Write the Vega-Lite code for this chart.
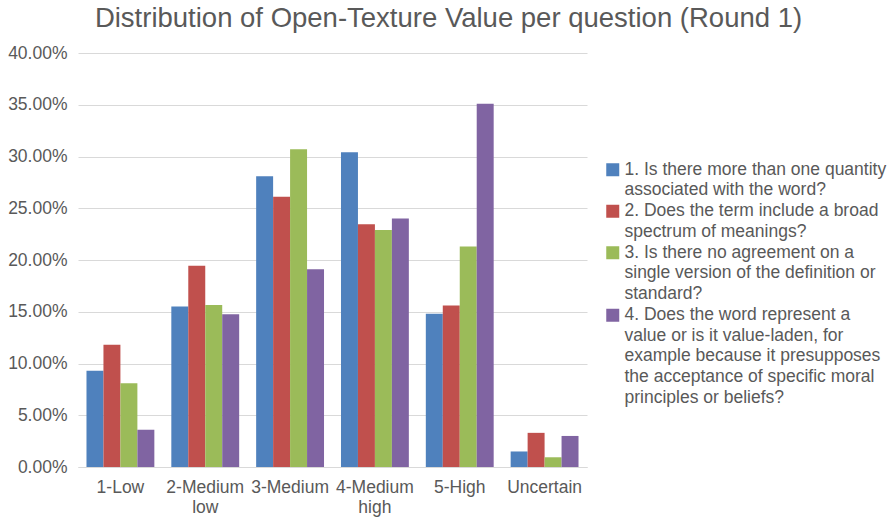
{
  "$schema": "https://vega.github.io/schema/vega-lite/v6.json",
  "width": 509,
  "height": 414,
  "autosize": {"type": "none"},
  "padding": {"left": 78, "top": 53, "right": 309, "bottom": 54},
  "background": "white",
  "title": {
    "text": "Distribution of Open-Texture Value per question (Round 1)",
    "anchor": "middle",
    "frame": "group",
    "dx": 116,
    "fontSize": 27.5,
    "font": "Liberation Sans",
    "fontWeight": "normal",
    "color": "#595959",
    "offset": 12
  },
  "data": {
    "values": [
      {"category": "1-Low", "question": "1. Is there more than one quantity\nassociated with the word?", "share": 0.093},
      {"category": "1-Low", "question": "2. Does the term include a broad\nspectrum of meanings?", "share": 0.118},
      {"category": "1-Low", "question": "3. Is there no agreement on a\nsingle version of the definition or\nstandard?", "share": 0.081},
      {"category": "1-Low", "question": "4. Does the word represent a\nvalue or is it value-laden, for\nexample because it presupposes\nthe acceptance of specific moral\nprinciples or beliefs?", "share": 0.036},
      {"category": "2-Medium low", "question": "1. Is there more than one quantity\nassociated with the word?", "share": 0.155},
      {"category": "2-Medium low", "question": "2. Does the term include a broad\nspectrum of meanings?", "share": 0.1945},
      {"category": "2-Medium low", "question": "3. Is there no agreement on a\nsingle version of the definition or\nstandard?", "share": 0.1565},
      {"category": "2-Medium low", "question": "4. Does the word represent a\nvalue or is it value-laden, for\nexample because it presupposes\nthe acceptance of specific moral\nprinciples or beliefs?", "share": 0.1475},
      {"category": "3-Medium", "question": "1. Is there more than one quantity\nassociated with the word?", "share": 0.281},
      {"category": "3-Medium", "question": "2. Does the term include a broad\nspectrum of meanings?", "share": 0.261},
      {"category": "3-Medium", "question": "3. Is there no agreement on a\nsingle version of the definition or\nstandard?", "share": 0.307},
      {"category": "3-Medium", "question": "4. Does the word represent a\nvalue or is it value-laden, for\nexample because it presupposes\nthe acceptance of specific moral\nprinciples or beliefs?", "share": 0.191},
      {"category": "4-Medium high", "question": "1. Is there more than one quantity\nassociated with the word?", "share": 0.304},
      {"category": "4-Medium high", "question": "2. Does the term include a broad\nspectrum of meanings?", "share": 0.2345},
      {"category": "4-Medium high", "question": "3. Is there no agreement on a\nsingle version of the definition or\nstandard?", "share": 0.229},
      {"category": "4-Medium high", "question": "4. Does the word represent a\nvalue or is it value-laden, for\nexample because it presupposes\nthe acceptance of specific moral\nprinciples or beliefs?", "share": 0.240},
      {"category": "5-High", "question": "1. Is there more than one quantity\nassociated with the word?", "share": 0.148},
      {"category": "5-High", "question": "2. Does the term include a broad\nspectrum of meanings?", "share": 0.156},
      {"category": "5-High", "question": "3. Is there no agreement on a\nsingle version of the definition or\nstandard?", "share": 0.213},
      {"category": "5-High", "question": "4. Does the word represent a\nvalue or is it value-laden, for\nexample because it presupposes\nthe acceptance of specific moral\nprinciples or beliefs?", "share": 0.351},
      {"category": "Uncertain", "question": "1. Is there more than one quantity\nassociated with the word?", "share": 0.015},
      {"category": "Uncertain", "question": "2. Does the term include a broad\nspectrum of meanings?", "share": 0.033},
      {"category": "Uncertain", "question": "3. Is there no agreement on a\nsingle version of the definition or\nstandard?", "share": 0.0094},
      {"category": "Uncertain", "question": "4. Does the word represent a\nvalue or is it value-laden, for\nexample because it presupposes\nthe acceptance of specific moral\nprinciples or beliefs?", "share": 0.030}
    ]
  },
  "mark": {"type": "bar"},
  "encoding": {
    "x": {
      "field": "category",
      "type": "nominal",
      "sort": null,
      "title": null,
      "scale": {"paddingInner": 0.2, "paddingOuter": 0.1},
      "axis": {
        "labelAngle": 0,
        "labelExpr": "split(datum.label, ' ')",
        "labelFont": "Liberation Sans",
        "labelFontSize": 17.5,
        "labelColor": "#595959",
        "labelLineHeight": 20,
        "labelPadding": 11,
        "labelBaseline": "top",
        "ticks": false,
        "domainColor": "#D9D9D9",
        "domainWidth": 1,
        "grid": false
      }
    },
    "xOffset": {
      "field": "question",
      "type": "nominal",
      "scale": {"paddingInner": 0, "paddingOuter": 0}
    },
    "y": {
      "field": "share",
      "type": "quantitative",
      "title": null,
      "scale": {"domain": [0, 0.4], "nice": false},
      "axis": {
        "values": [0, 0.05, 0.1, 0.15, 0.2, 0.25, 0.3, 0.35, 0.4],
        "format": ".2%",
        "labelFont": "Liberation Sans",
        "labelFontSize": 17.5,
        "labelColor": "#595959",
        "labelPadding": 11,
        "domain": false,
        "ticks": false,
        "gridColor": "#D9D9D9",
        "gridWidth": 1
      }
    },
    "color": {
      "field": "question",
      "type": "nominal",
      "scale": {"range": ["#4F81BD", "#C0504D", "#9BBB59", "#8064A2"]},
      "legend": {
        "title": null,
        "orient": "none",
        "legendX": 526,
        "legendY": 108,
        "padding": 0,
        "symbolType": "square",
        "symbolSize": 169,
        "symbolStrokeWidth": 0,
        "labelExpr": "split(datum.label, '\\n')",
        "labelFont": "Liberation Sans",
        "labelFontSize": 17.5,
        "labelColor": "#595959",
        "labelLimit": 400,
        "labelOffset": 3,
        "rowPadding": 2.5,
        "encode": {
          "labels": {"update": {"lineHeight": {"value": 20.6}}}
        }
      }
    }
  },
  "config": {
    "view": {"stroke": null}
  }
}
